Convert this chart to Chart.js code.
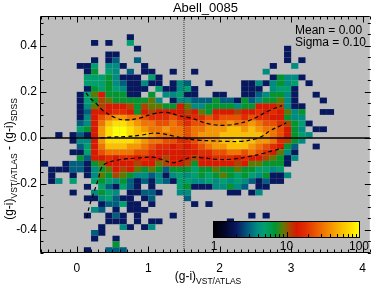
<!DOCTYPE html>
<html>
<head>
<meta charset="utf-8">
<script src="https://cdn.jsdelivr.net/npm/chart.js@4.4.1/dist/chart.umd.min.js"></script>
<style>
  html, body { margin: 0; padding: 0; background: #fff; }
</style>
</head>
<body>
<canvas id="chart" width="374" height="285"></canvas>
<script>
// 2D histogram bins: 0.1 wide in x, 0.025 tall in y
const xEdge0 = -0.5, xBin = 0.1;
const yTopEdge = 0.45, yBin = 0.025;

// one string per y bin (top row first), one char per x bin starting at x = -0.5
// '.' = empty, other chars -> levelCounts
const cellRows = [
  "............1.............................",
  ".......1.1..4.............................",
  ".............1....................1.......",
  ".........11.......................1.......",
  ".......1.12..2....................1.1.....",
  ".....114.331..1.................1..3......",
  "......15.43.2.11..1..1.........3..........",
  "......44453111.41...............15331.....",
  "......44453211311.132..1....11313534.1....",
  "......154543111.411341......111.3441......",
  ".....146855511.5.33411..11..11235531..1...",
  ".....145765555563.133222522152355631...1..",
  ".....13678887576655863355553558887311.....",
  ".....12888998587888878658887889898635..11.",
  ".....138abccbba999a9899a9aaa9a9988533.....",
  ".....238bdeedcbbaaba9aabbbcbbcbaa97541....",
  ".....458ceffedcbbcbbabbcccddcdcbba853.11..",
  "..1.1218ceffeddcbbbbabcccddddddcba8543....",
  "....1338ceeeedcbbaa99abccddeddccb9753.....",
  ".....248bdddccba998989abccdddcba9852..1...",
  "....1148abbbbaa988888899aabbaba98631......",
  ".....5288989989887888788999898876513......",
  "1..12215688887886788758888878665551.......",
  ".111221356878656525554556556554434........",
  ".1..1.13657653323134345456545435113.......",
  ".13.4..454352121321443343434321211........",
  "......1.421421.1...4511133532.11..........",
  "....1..3543.11221..33.....11.13...........",
  "......1134211.12....2.....................",
  "........122411.1.....1.1..................",
  ".......32.1.111...........................",
  "......1..121.1....1..........1.1..........",
  ".........111.1.11.........1...............",
  "........1..31.13..........................",
  ".......21.................................",
  ".......1..1...............................",
  "..........5...............................",
  "......1..222.............................."
];

// counts per bin for each code, read against the colour bar
const levelCodes = "123456789abcdef";
const levelCounts = [2, 3, 4, 5, 7, 9, 11, 14, 18, 24, 32, 42, 58, 78, 100];

// dashed curves (upper, median, lower)
const upperX = [0.13, 0.18, 0.28, 0.37, 0.55, 0.69, 0.88, 1.06, 1.25, 1.43, 1.6, 1.86, 2.13, 2.41, 2.69, 2.87];
const upperY = [0.195, 0.175, 0.147, 0.118, 0.086, 0.078, 0.086, 0.104, 0.111, 0.096, 0.086, 0.06, 0.056, 0.075, 0.118, 0.14];
const midX = [0.33, 0.5, 0.7, 0.9, 1.05, 1.2, 1.35, 1.5, 1.7, 1.9, 2.1, 2.3, 2.5, 2.6, 2.7, 2.85, 2.93];
const midY = [0.0, 0.004, 0.006, 0.012, 0.02, 0.018, 0.008, -0.002, -0.01, -0.013, -0.015, -0.015, -0.005, 0.008, 0.03, 0.053, 0.065];
const lowX = [0.138, 0.184, 0.23, 0.3, 0.345, 0.415, 0.6, 0.83, 1.06, 1.2, 1.34, 1.47, 1.6, 1.75, 1.95, 2.15, 2.4, 2.6, 2.75, 2.88];
const lowY = [-0.347, -0.289, -0.246, -0.181, -0.131, -0.11, -0.095, -0.088, -0.084, -0.095, -0.108, -0.098, -0.085, -0.086, -0.093, -0.093, -0.082, -0.068, -0.055, -0.045];

const xTicks = [0, 1, 2, 3, 4];
const yTicks = [-0.4, -0.2, 0.0, 0.2, 0.4];
const cbarTicks = [1, 10, 100];
const statLines = ["Mean = 0.00", "Sigma = 0.10"];
const titleText = "Abell_0085";

const FONT = "'Liberation Sans', Arial, sans-serif";

// colour table (t = log10(count) / 2)
const cmapStops = [
  [0.00, 0, 0, 0],
  [0.08, 2, 8, 45],
  [0.15, 8, 24, 94],
  [0.24, 0, 96, 128],
  [0.30, 0, 140, 128],
  [0.35, 0, 160, 110],
  [0.42, 0, 150, 50],
  [0.48, 100, 120, 0],
  [0.52, 170, 70, 0],
  [0.57, 215, 25, 0],
  [0.63, 225, 45, 0],
  [0.69, 232, 80, 0],
  [0.75, 240, 115, 0],
  [0.81, 245, 150, 0],
  [0.88, 250, 190, 0],
  [0.95, 255, 225, 0],
  [1.00, 255, 255, 0]
];
function cmap(t) {
  t = Math.max(0, Math.min(1, t));
  for (let i = 1; i < cmapStops.length; i++) {
    const a = cmapStops[i - 1], b = cmapStops[i];
    if (t <= b[0]) {
      const f = (t - a[0]) / (b[0] - a[0]);
      const c = [1, 2, 3].map(k => Math.round(a[k] + f * (b[k] - a[k])));
      return `rgb(${c[0]},${c[1]},${c[2]})`;
    }
  }
  return 'rgb(255,255,0)';
}
const countColor = n => cmap(Math.log10(n) / 2);

const heatmap = {
  id: 'heatmap',
  beforeDatasetsDraw(chart) {
    const {ctx, chartArea: a, scales: {x, y}} = chart;
    ctx.save();
    ctx.fillStyle = '#bebebe';
    ctx.fillRect(a.left, a.top, a.right - a.left, a.bottom - a.top);
    cellRows.forEach((row, r) => {
      const top = yTopEdge - r * yBin;
      const y0 = y.getPixelForValue(top), y1 = y.getPixelForValue(top - yBin);
      for (let c = 0; c < row.length; c++) {
        const k = levelCodes.indexOf(row[c]);
        if (k < 0) continue;
        const x0 = x.getPixelForValue(xEdge0 + c * xBin);
        const x1 = x.getPixelForValue(xEdge0 + (c + 1) * xBin);
        ctx.fillStyle = countColor(levelCounts[k]);
        ctx.fillRect(x0, y0, x1 - x0, y1 - y0);
      }
    });
    ctx.restore();
  }
};

// text with subscripts: parts = [[text, isSub], ...]
function subText(ctx, parts, cx, cy) {
  const big = '12px ' + FONT, small = '8.5px ' + FONT;
  let w = 0;
  parts.forEach(([t, s]) => { ctx.font = s ? small : big; w += ctx.measureText(t).width; });
  let px = cx - w / 2;
  parts.forEach(([t, s]) => {
    ctx.font = s ? small : big;
    ctx.fillText(t, px, s ? cy + 4 : cy);
    px += ctx.measureText(t).width;
  });
}

const decor = {
  id: 'decor',
  afterDraw(chart) {
    const {ctx, chartArea: a, scales: {x, y}} = chart;
    ctx.save();
    ctx.strokeStyle = '#000';
    ctx.lineWidth = 1;
    // frame
    const L = Math.round(a.left) - 0.5, T = Math.round(a.top) - 0.5, B = Math.round(a.bottom) - 0.5;
    ctx.beginPath();
    ctx.moveTo(a.right, T); ctx.lineTo(L, T); ctx.lineTo(L, B); ctx.lineTo(a.right, B);
    ctx.stroke();
    // tick marks (inside, all sides)
    ctx.beginPath();
    for (let k = -5; k <= 41; k++) {
      const px = Math.round(x.getPixelForValue(k / 10)) + 0.5;
      const len = k % 10 === 0 ? 6 : 3;
      ctx.moveTo(px, B); ctx.lineTo(px, B - len);
      ctx.moveTo(px, T); ctx.lineTo(px, T + len);
    }
    for (let k = -10; k <= 10; k++) {
      const py = Math.round(y.getPixelForValue(k * 0.05)) + 0.5;
      const len = k % 4 === 0 ? 6 : 3;
      ctx.moveTo(L, py); ctx.lineTo(L + len, py);
      ctx.moveTo(a.right + 1, py); ctx.lineTo(a.right + 1 - len, py);
    }
    ctx.stroke();

    // colour bar
    const cb = {l: 214, r: 359, t: 222, b: 237};
    for (let px = cb.l; px < cb.r; px++) {
      ctx.fillStyle = cmap((px + 0.5 - cb.l) / (cb.r - cb.l));
      ctx.fillRect(px, cb.t, 1, cb.b - cb.t);
    }
    ctx.strokeRect(cb.l - 0.5, cb.t - 0.5, cb.r - cb.l + 1, cb.b - cb.t + 1);
    ctx.beginPath();
    for (let d = 0; d < 2; d++) {
      for (let m = 2; m <= 9; m++) {
        const px = Math.round(cb.l + (d + Math.log10(m)) / 2 * (cb.r - cb.l)) + 0.5;
        ctx.moveTo(px, cb.b); ctx.lineTo(px, cb.b - 3);
      }
    }
    const pm = Math.round((cb.l + cb.r) / 2) + 0.5;
    ctx.moveTo(pm, cb.b); ctx.lineTo(pm, cb.b - 5);
    ctx.stroke();
    ctx.fillStyle = '#000';
    ctx.font = '12px ' + FONT;
    ctx.textAlign = 'center';
    ctx.textBaseline = 'middle';
    cbarTicks.forEach(v => {
      const px = cb.l + Math.log10(v) / 2 * (cb.r - cb.l);
      ctx.fillText(String(v), px, 247);
    });

    // title and stats
    ctx.font = '13px ' + FONT;
    ctx.textBaseline = 'alphabetic';
    ctx.fillText(titleText, (a.left + a.right) / 2, 12);
    ctx.font = '12px ' + FONT;
    ctx.textAlign = 'left';
    statLines.forEach((s, i) => ctx.fillText(s, 295, 34 + i * 12));

    // axis titles
    ctx.textAlign = 'left';
    subText(ctx, [['(g-i)', false], ['VST/ATLAS', true]], 208, 280);
    ctx.translate(13, 159);
    ctx.rotate(-Math.PI / 2);
    subText(ctx, [['(g-i)', false], ['VST/ATLAS', true], [' - (g-i)', false], ['SDSS', true]], 0, 0);
    ctx.restore();
  }
};

const toPts = (xs, ys) => xs.map((v, i) => ({x: v, y: ys[i]}));
const dashed = (xs, ys) => ({
  data: toPts(xs, ys), showLine: true, borderColor: '#000', borderWidth: 1.2,
  borderDash: [4, 3], pointRadius: 0, tension: 0.4, fill: false
});

Chart.defaults.font.family = FONT;
Chart.defaults.font.size = 12;
Chart.defaults.color = '#000';

new Chart(document.getElementById('chart'), {
  type: 'scatter',
  data: {
    datasets: [
      {data: [{x: -0.5, y: 0}, {x: 4.1, y: 0}], showLine: true, borderColor: '#000', borderWidth: 1.5, pointRadius: 0},
      {data: [{x: 1.5, y: -0.5}, {x: 1.5, y: 0.525}], showLine: true, borderColor: '#333', borderWidth: 1, borderDash: [1, 1], pointRadius: 0},
      dashed(upperX, upperY),
      dashed(midX, midY),
      dashed(lowX, lowY)
    ]
  },
  options: {
    responsive: false,
    animation: false,
    devicePixelRatio: 1,
    layout: {padding: {top: 17, left: 0, right: 0, bottom: 0}},
    plugins: {legend: {display: false}, tooltip: {enabled: false}},
    scales: {
      x: {
        type: 'linear', min: -0.5, max: 4.1,
        grid: {display: false, drawTicks: false}, border: {display: false},
        afterBuildTicks: s => { s.ticks = xTicks.map(v => ({value: v})); },
        afterFit: s => { s.height = 32; },
        ticks: {padding: 8, maxRotation: 0, autoSkip: false, callback: v => String(v)}
      },
      y: {
        type: 'linear', min: -0.5, max: 0.525,
        grid: {display: false, drawTicks: false}, border: {display: false},
        afterBuildTicks: s => { s.ticks = yTicks.map(v => ({value: v})); },
        afterFit: s => { s.width = 41; },
        ticks: {padding: 4, autoSkip: false, callback: v => v.toFixed(1)}
      }
    }
  },
  plugins: [heatmap, decor]
});
</script>
</body>
</html>
